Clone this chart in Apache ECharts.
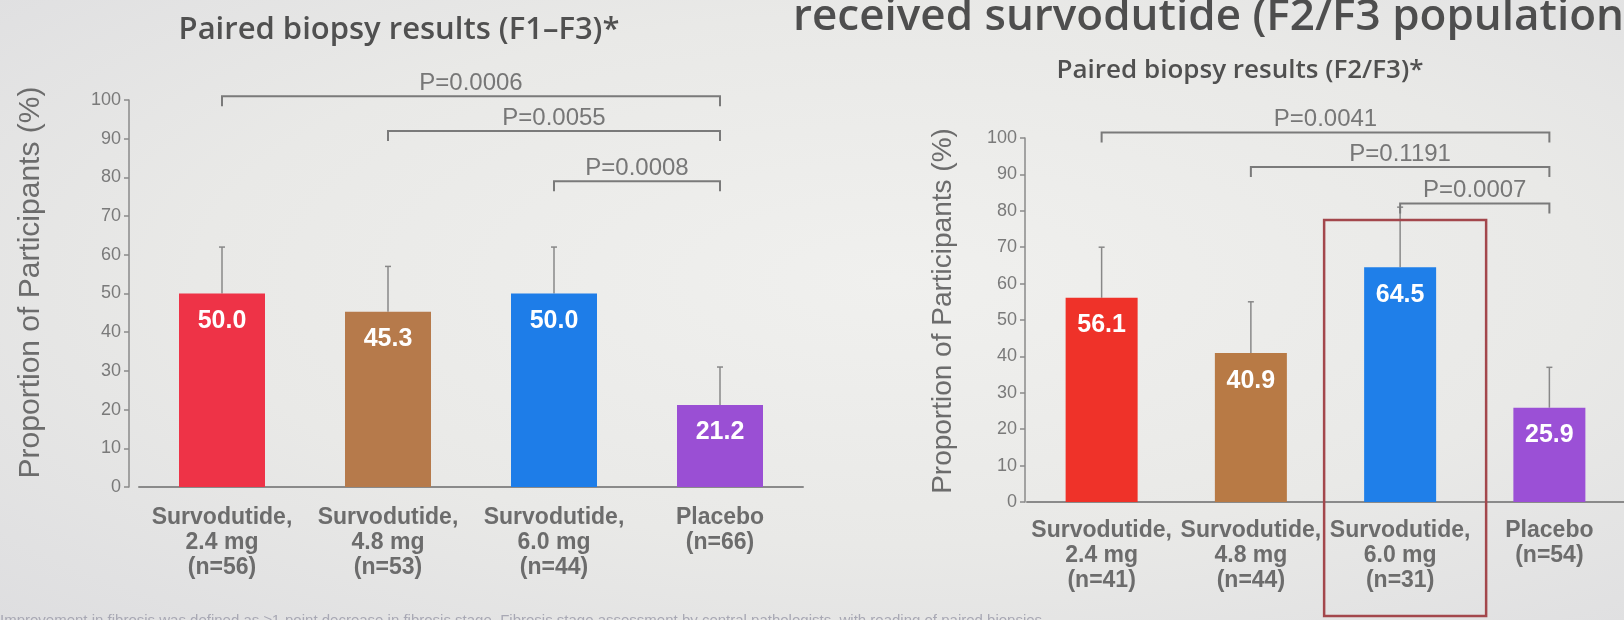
<!DOCTYPE html>
<html><head><meta charset="utf-8">
<script src="https://cdn.jsdelivr.net/npm/echarts@6/dist/echarts.min.js"></script>
<style>
html,body{margin:0;padding:0;}
body{width:1624px;height:620px;background:radial-gradient(ellipse at 55% 45%, #f0f0ee 0%, #e9e9e7 55%, #dedee0 100%);overflow:hidden;}
#c{width:1624px;height:620px;}
</style></head>
<body><div id="c"></div>
<script>
// ---- data ----
const catsLeft = ['Survodutide,\n2.4 mg\n(n=56)', 'Survodutide,\n4.8 mg\n(n=53)', 'Survodutide,\n6.0 mg\n(n=44)', 'Placebo\n(n=66)'];
const valsLeft = [50.0, 45.3, 50.0, 21.2];
const errLeft = [62, 57, 62, 31];
const bracketsLeft = [[0, 3, 101, 'P=0.0006'], [1, 3, 92, 'P=0.0055'], [2, 3, 79, 'P=0.0008']];

const catsRight = ['Survodutide,\n2.4 mg\n(n=41)', 'Survodutide,\n4.8 mg\n(n=44)', 'Survodutide,\n6.0 mg\n(n=31)', 'Placebo\n(n=54)'];
const valsRight = [56.1, 40.9, 64.5, 25.9];
const errRight = [70, 55, 81, 37];
const bracketsRight = [[0, 3, 101.5, 'P=0.0041'], [1, 3, 92, 'P=0.1191'], [2, 3, 82, 'P=0.0007']];

const yTicks = [0, 10, 20, 30, 40, 50, 60, 70, 80, 90, 100];

const colorsLeft = ['#ee3347', '#b67a4b', '#1e7de8', '#9a4fd4'];
const colorsRight = ['#ef3229', '#b87a45', '#1f7fe9', '#9b50d6'];

const chart = echarts.init(document.getElementById('c'));
const gray = '#6c6c6c';

function yAxis(idx, gap, offset, pad, fs) {
  return {
    type: 'value', gridIndex: idx, min: yTicks[0], max: yTicks[yTicks.length - 1], interval: 10, offset: offset,
    name: 'Proportion of Participants (%)', nameLocation: 'middle', nameGap: gap,
    nameTextStyle: {fontFamily: 'Liberation Sans', fontSize: fs, color: '#6c6c6c', padding: [0, 0, 0, pad]},
    axisLine: {show: true, lineStyle: {color: '#8a8a8a', width: 1.5}},
    axisTick: {show: true, length: 5, lineStyle: {color: '#8a8a8a', width: 1.5}},
    axisLabel: {fontFamily: 'Liberation Sans', fontSize: 18, color: '#7a7a7a', margin: 8},
    splitLine: {show: false}
  };
}
function xAxis(idx, cats, margin) {
  return {
    type: 'category', gridIndex: idx, data: cats,
    axisLine: {show: true, lineStyle: {color: '#8a8a8a', width: 2}},
    axisTick: {show: false},
    axisLabel: {fontFamily: 'Liberation Sans', fontSize: 23, fontWeight: 'bold', color: gray, lineHeight: 25, margin: margin, interval: 0}
  };
}
function barSeries(idx, vals, colors, width) {
  return {
    type: 'bar', xAxisIndex: idx, yAxisIndex: idx, barWidth: width, z: 2,
    data: vals.map((v, i) => ({value: v, itemStyle: {color: colors[i]}})),
    label: {show: true, position: 'insideTop', distance: 15, color: '#fff', fontFamily: 'Liberation Sans', fontWeight: 'bold', fontSize: 25,
      formatter: p => p.value.toFixed(1)}
  };
}
function errSeries(idx, vals, errs) {
  return {
    type: 'custom', xAxisIndex: idx, yAxisIndex: idx, z: 1,
    data: vals.map((v, i) => [i, v, errs[i]]),
    renderItem: (params, api) => {
      const p0 = api.coord([api.value(0), api.value(1)]);
      const p1 = api.coord([api.value(0), api.value(2)]);
      return {type: 'group', children: [
        {type: 'line', shape: {x1: p0[0], y1: p0[1], x2: p1[0], y2: p1[1]}, style: {stroke: '#888', lineWidth: 1.5}},
        {type: 'line', shape: {x1: p1[0] - 3, y1: p1[1], x2: p1[0] + 3, y2: p1[1]}, style: {stroke: '#888', lineWidth: 1.5}}
      ]};
    }
  };
}
function bracketSeries(idx, brs) {
  return {
    type: 'custom', xAxisIndex: idx, yAxisIndex: idx, z: 3, clip: false,
    data: brs.map(b => [b[0], b[1], b[2]]),
    renderItem: (params, api) => {
      const a = api.coord([api.value(0), api.value(2)]);
      const b = api.coord([api.value(1), api.value(2)]);
      const label = brs[params.dataIndex][3];
      return {type: 'group', children: [
        {type: 'polyline', shape: {points: [[a[0], a[1] + 10], [a[0], a[1]], [b[0], b[1]], [b[0], b[1] + 10]]},
          style: {stroke: '#7a7a7a', lineWidth: 2, fill: null}},
        {type: 'text', x: (a[0] + b[0]) / 2, y: a[1] - 1,
          style: {text: label, fill: '#777', font: '24px "Liberation Sans"', textAlign: 'center', textVerticalAlign: 'bottom'}}
      ]};
    }
  };
}

chart.setOption({
  animation: false,
  backgroundColor: 'transparent',
  grid: [
    {left: 139, top: 100, width: 664, height: 387},
    {left: 1027, top: 138, width: 597, height: 364}
  ],
  xAxis: [xAxis(0, catsLeft, 18), xAxis(1, catsRight, 16)],
  yAxis: [yAxis(0, 83, 10, 22, 30), yAxis(1, 68, 2, 18, 28)],
  series: [
    errSeries(0, valsLeft, errLeft),
    barSeries(0, valsLeft, colorsLeft, 86),
    bracketSeries(0, bracketsLeft),
    errSeries(1, valsRight, errRight),
    barSeries(1, valsRight, colorsRight, 72),
    bracketSeries(1, bracketsRight)
  ]
});

// highlight box around the 6.0 mg bar of the right chart
const cx = chart.convertToPixel({xAxisIndex: 1}, 2);
chart.setOption({graphic: [
  {type: 'text', x: 1624, y: 39, style: {text: 'received survodutide (F2/F3 population', fill: '#4e4e4e', font: '600 44px "Open Sans"', textAlign: 'right', textVerticalAlign: 'bottom'}},
  {type: 'text', x: 399, y: 30, style: {text: 'Paired biopsy results (F1\u2013F3)*', fill: '#505050', font: '600 31px "Open Sans"', textAlign: 'center', textVerticalAlign: 'middle'}},
  {type: 'text', x: 1240, y: 71, style: {text: 'Paired biopsy results (F2/F3)*', fill: '#505050', font: '600 26px "Open Sans"', textAlign: 'center', textVerticalAlign: 'middle'}},
  {type: 'text', x: 0, y: 613, style: {text: 'Improvement in fibrosis was defined as \u22651-point decrease in fibrosis stage. Fibrosis stage assessment by central pathologists, with reading of paired biopsies', fill: '#a8a8b4', font: '15px "Liberation Sans"', textVerticalAlign: 'top'}},
  {type: 'rect', shape: {x: cx - 76, y: 220, width: 162, height: 396}, style: {fill: null, stroke: '#a3474c', lineWidth: 2.5}, z: 10}
]});
</script>
</body></html>
